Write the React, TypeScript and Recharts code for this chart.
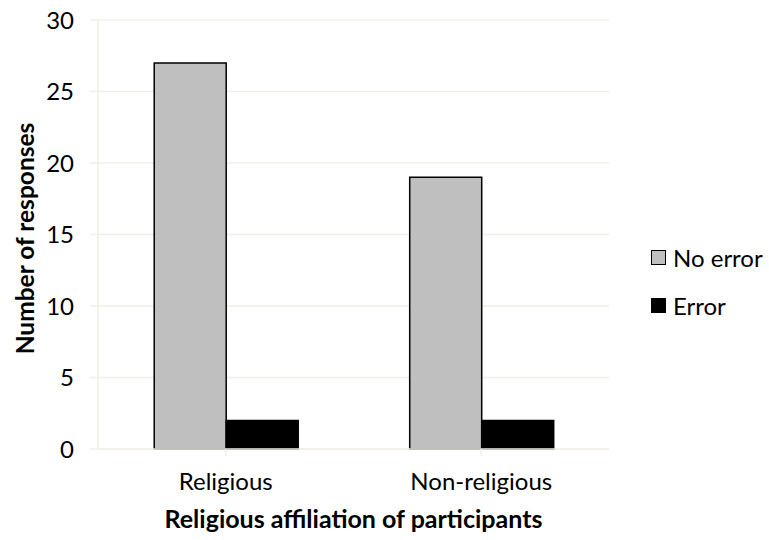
import React from 'react'
import { BarChart, Bar, XAxis, YAxis, CartesianGrid, Legend } from 'recharts'

const categories = ['Religious', 'Non-religious']
const noError = [27, 19]
const withError = [2, 2]
const yTicks = [0, 5, 10, 15, 20, 25, 30]

const GRID = '#F2EFE6'
const FONT = 'Lato, "Open Sans", sans-serif'
const LEGEND_W = 118

const SERIES = [
  { key: 'noError', name: 'No error', fill: '#BFBFBF', stroke: '#000000' },
  { key: 'withError', name: 'Error', fill: '#000000', stroke: '#000000' },
] as const

const data = categories.map((category, i) => ({
  category,
  noError: noError[i],
  withError: withError[i],
}))

function LegendBox() {
  return (
    <div style={{ fontFamily: FONT, fontSize: 24, color: '#000', width: LEGEND_W }}>
      {SERIES.map((s, i) => (
        <div
          key={s.key}
          style={{ display: 'flex', alignItems: 'center', height: 24, marginBottom: i === 0 ? 24 : 0 }}
        >
          <span
            style={{
              display: 'inline-block',
              width: 13,
              height: 13,
              background: s.fill,
              border: '1px solid #000',
              marginRight: 7,
            }}
          />
          <span>{s.name}</span>
        </div>
      ))}
    </div>
  )
}

function YTitle(props: any) {
  const vb = props.viewBox || {}
  const cx = 24
  const cy = (vb.y ?? 20) + (vb.height ?? 429) / 2 + 4
  return (
    <text
      x={cx}
      y={cy}
      transform={`rotate(-90, ${cx}, ${cy})`}
      textAnchor="middle"
      dominantBaseline="central"
      fontFamily={FONT}
      fontSize={24.5}
      fontWeight={700}
      fill="#000"
    >
      Number of responses
    </text>
  )
}

export default function App() {
  return (
    <div style={{ position: 'absolute', left: 0, top: 0, width: 769, height: 540, background: '#fff', fontFamily: FONT }}>
      <BarChart
        width={769}
        height={540}
        data={data}
        margin={{ top: 20, right: 160 - LEGEND_W, bottom: 0, left: 0 }}
        barCategoryGap="22%"
        barGap={0}
      >
        <CartesianGrid vertical={false} stroke={GRID} strokeWidth={1.5} />
        <XAxis
          dataKey="category"
          height={91}
          axisLine={{ stroke: GRID, strokeWidth: 1.5 }}
          tickLine={{ stroke: GRID, strokeWidth: 1.5 }}
          tickSize={7}
          tickMargin={17}
          tick={{ fill: '#000', fontSize: 24, fontFamily: FONT }}
          label={{
            value: 'Religious affiliation of participants',
            position: 'insideBottom',
            offset: 12,
            fill: '#000',
            fontSize: 25,
            fontWeight: 700,
            fontFamily: FONT,
          }}
        />
        <YAxis
          width={98}
          domain={[0, 30]}
          ticks={yTicks}
          interval={0}
          axisLine={{ stroke: GRID, strokeWidth: 1.5 }}
          tickLine={{ stroke: GRID, strokeWidth: 1.5 }}
          tickSize={8}
          tickMargin={16}
          tick={{ fill: '#000', fontSize: 24, fontFamily: FONT }}
          label={<YTitle />}
        />
        <Legend
          layout="vertical"
          align="right"
          verticalAlign="top"
          width={LEGEND_W}
          content={() => <LegendBox />}
          wrapperStyle={{ left: 651, top: 245, width: LEGEND_W }}
        />
        {SERIES.map((s) => (
          <Bar
            key={s.key}
            dataKey={s.key}
            name={s.name}
            fill={s.fill}
            stroke={s.stroke}
            strokeWidth={1.5}
            isAnimationActive={false}
          />
        ))}
      </BarChart>
    </div>
  )
}
